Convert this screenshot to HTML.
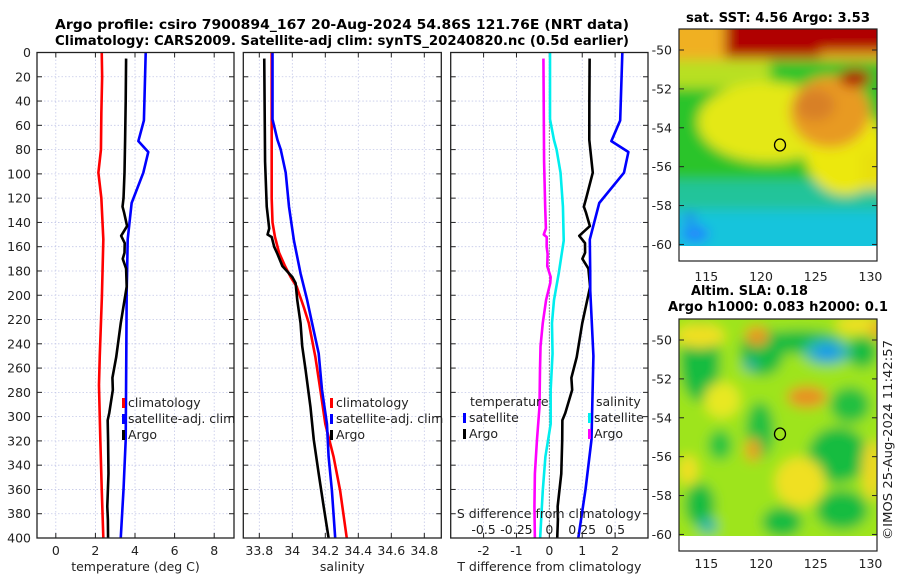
<!DOCTYPE html>
<html>
<head>
<meta charset="utf-8">
<style>
html,body{margin:0;padding:0;background:#fff;}
svg{display:block;font-family:"DejaVu Sans","Liberation Sans",sans-serif;}
</style>
</head>
<body>
<svg id="chart" width="900" height="580" viewBox="0 0 900 580" xmlns="http://www.w3.org/2000/svg">
  <defs>
    <filter id="blur4" x="-20%" y="-20%" width="140%" height="140%"><feGaussianBlur stdDeviation="6"/></filter>
    <clipPath id="clipTop"><rect x="679" y="29" width="198" height="217"/></clipPath>
    <clipPath id="clipBot"><rect x="679" y="319" width="198" height="217"/></clipPath>
  </defs>
  <rect x="0" y="0" width="900" height="580" fill="#fff"/>
  <text x="55" y="29" font-size="13" font-weight="bold" textLength="574" lengthAdjust="spacingAndGlyphs">Argo profile: csiro 7900894_167 20-Aug-2024 54.86S 121.76E (NRT data)</text>
  <text x="55" y="45" font-size="13" font-weight="bold" textLength="574" lengthAdjust="spacingAndGlyphs">Climatology: CARS2009. Satellite-adj clim: synTS_20240820.nc (0.5d earlier)</text>

  <!-- top map: SST -->
  <text x="686" y="22" font-size="13" font-weight="bold" textLength="184" lengthAdjust="spacingAndGlyphs">sat. SST: 4.56 Argo: 3.53</text>
  <g clip-path="url(#clipTop)">
    <g filter="url(#blur4)">
      <rect x="660" y="10" width="240" height="260" fill="#2cc42c"/>
      <rect x="660" y="180" width="240" height="80" fill="#22c49a"/>
      <rect x="660" y="210" width="240" height="50" fill="#18c4dc"/>
      <ellipse cx="695" cy="234" rx="14" ry="8" fill="#2080ff"/>
      <ellipse cx="690" cy="218" rx="6" ry="5" fill="#2070f0"/>
      <rect x="660" y="50" width="110" height="38" fill="#b8e020"/>
      <ellipse cx="768" cy="122" rx="70" ry="40" fill="#e4e818"/>
      <ellipse cx="845" cy="150" rx="40" ry="45" fill="#ece810"/>
      <rect x="860" y="150" width="40" height="40" fill="#e8e010"/>
      <rect x="660" y="10" width="240" height="50" fill="#f0b020"/>
      <ellipse cx="830" cy="112" rx="40" ry="36" fill="#e89a20"/>
      <ellipse cx="815" cy="105" rx="20" ry="16" fill="#d88028"/>
      <rect x="725" y="10" width="95" height="48" fill="#b00000"/>
      <rect x="818" y="10" width="80" height="42" fill="#b00000"/>
      <ellipse cx="855" cy="78" rx="16" ry="9" fill="#b00000"/>
    </g>
  </g>
  <rect x="679" y="246" width="198" height="15" fill="#fff"/>
  <rect x="679" y="29" width="198" height="232" fill="none" stroke="#222" stroke-width="1.2"/>
  <ellipse cx="780" cy="145" rx="5.5" ry="6" fill="none" stroke="#000" stroke-width="1.3"/>

  <!-- bottom map: SLA -->
  <text x="691" y="295" font-size="13" font-weight="bold" textLength="117" lengthAdjust="spacingAndGlyphs">Altim. SLA: 0.18</text>
  <text x="668" y="311" font-size="13" font-weight="bold" textLength="220" lengthAdjust="spacingAndGlyphs">Argo h1000: 0.083 h2000: 0.1</text>
  <g clip-path="url(#clipBot)">
    <g filter="url(#blur4)">
      <rect x="660" y="300" width="240" height="260" fill="#9ee41c"/>
      <ellipse cx="700" cy="362" rx="20" ry="40" fill="#18bc40"/>
      <ellipse cx="762" cy="352" rx="22" ry="24" fill="#18bc40"/>
      <ellipse cx="800" cy="342" rx="42" ry="12" fill="#18bc40"/>
      <ellipse cx="760" cy="430" rx="14" ry="28" fill="#20c040"/>
      <ellipse cx="838" cy="455" rx="30" ry="28" fill="#18bc40"/>
      <ellipse cx="842" cy="510" rx="26" ry="20" fill="#18bc40"/>
      <ellipse cx="700" cy="505" rx="15" ry="22" fill="#18bc40"/>
      <ellipse cx="782" cy="522" rx="20" ry="15" fill="#18bc40"/>
      <ellipse cx="862" cy="352" rx="15" ry="16" fill="#18bc40"/>
      <ellipse cx="720" cy="445" rx="12" ry="15" fill="#28c440"/>
      <ellipse cx="850" cy="405" rx="20" ry="18" fill="#20c040"/>
      <ellipse cx="700" cy="336" rx="25" ry="12" fill="#f0e020"/>
      <ellipse cx="860" cy="325" rx="25" ry="9" fill="#f0e020"/>
      <ellipse cx="722" cy="400" rx="18" ry="18" fill="#e8e820"/>
      <ellipse cx="800" cy="482" rx="25" ry="25" fill="#f0e020"/>
      <ellipse cx="872" cy="470" rx="10" ry="30" fill="#f0d820"/>
      <ellipse cx="688" cy="470" rx="10" ry="15" fill="#f0e020"/>
      <ellipse cx="757" cy="336" rx="12" ry="10" fill="#e89820"/>
      <ellipse cx="807" cy="397" rx="20" ry="11" fill="#e89020"/>
      <ellipse cx="753" cy="450" rx="8" ry="12" fill="#e8a020"/>
      <ellipse cx="878" cy="330" rx="8" ry="10" fill="#e8b020"/>
      <ellipse cx="827" cy="352" rx="24" ry="13" fill="#30b8b0"/>
      <ellipse cx="827" cy="352" rx="13" ry="7" fill="#1898f0"/>
      <ellipse cx="750" cy="365" rx="8" ry="6" fill="#30b0a0"/>
      <ellipse cx="708" cy="526" rx="10" ry="8" fill="#30b8a8"/>
    </g>
  </g>
  <rect x="679" y="536" width="198" height="15" fill="#fff"/>
  <rect x="679" y="319" width="198" height="232" fill="none" stroke="#222" stroke-width="1.2"/>
  <ellipse cx="780" cy="434" rx="5.5" ry="6" fill="#9ee41c" stroke="#000" stroke-width="1.3"/>
  <text transform="translate(892,540) rotate(-90)" font-size="12.5" fill="#222" textLength="200" lengthAdjust="spacingAndGlyphs">©IMOS 25-Aug-2024 11:42:57</text>
</svg>
<script>
// ---------- data ----------
const depthTicks = [0,20,40,60,80,100,120,140,160,180,200,220,240,260,280,300,320,340,360,380,400];
const tempTicks = [0,2,4,6,8];
const salTicks = [33.8,34,34.2,34.4,34.6,34.8];
const salTickLabels = ['33.8','34','34.2','34.4','34.6','34.8'];
const tDiffTicks = [-2,-1,0,1,2];
const sDiffTicks = [-0.5,-0.25,0,0.25,0.5];
const sDiffTickLabels = ['-0.5','-0.25','0','0.25','0.5'];

const tempClimDepth = [0,20,50,80,99,120,154,200,250,274,320,360,400];
const tempClimVal   = [2.32,2.34,2.3,2.28,2.15,2.3,2.4,2.33,2.22,2.18,2.25,2.32,2.4];
const tempSatDepth  = [0,56,73,82,99,124,154,182,196,250,319,360,400];
const tempSatVal    = [4.54,4.45,4.17,4.67,4.42,3.83,3.63,3.6,3.58,3.56,3.53,3.42,3.28];
const tempArgoDepth = [5,40,72,99,120,127,132,143,151,157,165,170,178,193,223,251,268,278,297,303,319,347,374,385,400];
const tempArgoVal   = [3.55,3.53,3.5,3.47,3.42,3.37,3.45,3.6,3.3,3.48,3.47,3.38,3.55,3.58,3.28,3.05,2.86,2.88,2.7,2.62,2.64,2.66,2.6,2.63,2.64];

const salClimDepth = [0,50,100,120,140,152,165,176,185,193,210,223,251,278,306,333,361,400];
const salClimVal   = [33.875,33.875,33.875,33.875,33.88,33.895,33.92,33.956,33.99,34.027,34.07,34.10,34.14,34.17,34.20,34.25,34.29,34.33];
const salSatDepth  = [0,55,72,80,99,127,155,182,204,223,248,278,306,333,361,400];
const salSatVal    = [33.88,33.88,33.91,33.93,33.96,33.98,34.01,34.05,34.09,34.12,34.16,34.18,34.21,34.22,34.24,34.26];
const salArgoDepth = [5,90,127,145,150,152,160,166,176,185,190,204,223,242,261,292,319,347,374,400];
const salArgoVal   = [33.83,33.835,33.845,33.86,33.85,33.875,33.89,33.91,33.94,34.0,34.02,34.03,34.05,34.06,34.08,34.11,34.13,34.16,34.19,34.22];

const mapLatTicks = [-50,-52,-54,-56,-58,-60];
const mapLonTicks = [115,120,125,130];

// ---------- helpers ----------
const NS = 'http://www.w3.org/2000/svg';
const svg = document.getElementById('chart');
function mk(tag, attrs, parent){
  const e = document.createElementNS(NS, tag);
  for (const k in attrs) e.setAttribute(k, attrs[k]);
  (parent || svg).appendChild(e);
  return e;
}
function interp(ds, vs, d){
  if (d <= ds[0]) return vs[0];
  for (let i=1;i<ds.length;i++){ if (d <= ds[i]){ const t=(d-ds[i-1])/(ds[i]-ds[i-1]); return vs[i-1]+t*(vs[i]-vs[i-1]); } }
  return vs[vs.length-1];
}
const Y0 = 52.5, Y1 = 538;
function yScale(d){ return Y0 + d*(Y1-Y0)/400; }
function makeX(x0,x1,min,max){ return v => x0 + (v-min)*(x1-x0)/(max-min); }

const P1 = {x0:37, x1:234, min:-0.95, max:9.0};
const P2 = {x0:243.3, x1:441.3, min:33.703, max:34.903};
const P3 = {x0:450.7, x1:648, min:-3.0, max:3.0};
const x1s = makeX(P1.x0,P1.x1,P1.min,P1.max);
const x2s = makeX(P2.x0,P2.x1,P2.min,P2.max);
const x3s = makeX(P3.x0,P3.x1,P3.min,P3.max);
const x3sS = v => x3s(v*4);

function drawPanel(P, xs, ticks, name){
  const g = mk('g', {});
  
  
  ticks.forEach(t => {
    const x = xs(t);
    const gl = mk('line', {x1:x, x2:x, y1:Y0, y2:Y1, stroke:'#c4c8e8', 'stroke-width':0.8, 'stroke-dasharray':'1.5,2'}, g);
    
    
  });
  depthTicks.forEach(d => {
    const y = yScale(d);
    const gl = mk('line', {x1:P.x0, x2:P.x1, y1:y, y2:y, stroke:'#c4c8e8', 'stroke-width':0.8, 'stroke-dasharray':'1.5,2'}, g);
    
    
    const tl = mk('line', {x1:P.x0, x2:P.x0+5, y1:y, y2:y, stroke:'#222', 'stroke-width':1}, g);
    
    
    const tr = mk('line', {x1:P.x1-5, x2:P.x1, y1:y, y2:y, stroke:'#222', 'stroke-width':1}, g);
    
    
  });
  ticks.forEach(t => {
    const x = xs(t);
    const tb = mk('line', {x1:x, x2:x, y1:Y1-5, y2:Y1, stroke:'#222', 'stroke-width':1}, g);
    
    
    const tt = mk('line', {x1:x, x2:x, y1:Y0, y2:Y0+5, stroke:'#222', 'stroke-width':1}, g);
    
    
  });
  return g;
}
function drawFrame(P, name){
  const r = mk('rect', {x:P.x0, y:Y0, width:P.x1-P.x0, height:Y1-Y0, fill:'none', stroke:'#222', 'stroke-width':1.3});
  
  
}
function label(x, y, txt, anchor, size, name){
  const t = mk('text', {x:x, y:y, 'text-anchor':anchor, 'font-size':size, fill:'#222'});
  t.textContent = txt;
  
  
  return t;
}
function line(xsArr, ysArr, color, name, w){
  const pts = xsArr.map((x,i) => x.toFixed(2)+','+ysArr[i].toFixed(2)).join(' ');
  const p = mk('polyline', {points:pts, fill:'none', stroke:color, 'stroke-width':w||2.6, 'stroke-linejoin':'round', 'stroke-linecap':'butt'});
  
  
  return p;
}
function legendEntry(x, y, color, txt, name){
  const m = mk('rect', {x:x, y:y-9, width:3, height:10, fill:color});
  
  
  label(x+6, y, txt, 'start', 12.5, name);
}

// ---------- panel 1: temperature ----------
drawPanel(P1, x1s, tempTicks, 'temperature-panel');
depthTicks.forEach(d => { label(31, yScale(d)+4.5, String(d), 'end', 12.5, 'depth-tick-label'); });
tempTicks.forEach(t => { label(x1s(t), 555, String(t), 'middle', 12.5, 'temperature-tick-label'); });
label((P1.x0+P1.x1)/2, 571, 'temperature (deg C)', 'middle', 12.5, 'temperature-axis-title');
line(tempClimVal.map(x1s), tempClimDepth.map(yScale), '#ff0000', 'temperature-climatology-line');
line(tempSatVal.map(x1s), tempSatDepth.map(yScale), '#0000ff', 'temperature-satellite-line');
line(tempArgoVal.map(x1s), tempArgoDepth.map(yScale), '#000000', 'temperature-argo-line');
drawFrame(P1, 'temperature-panel');
legendEntry(122, 407, '#ff0000', 'climatology', 'temperature-legend-climatology');
legendEntry(122, 423, '#0000ff', 'satellite-adj. clim', 'temperature-legend-satellite');
legendEntry(122, 439, '#000000', 'Argo', 'temperature-legend-argo');

// ---------- panel 2: salinity ----------
drawPanel(P2, x2s, salTicks, 'salinity-panel');
salTicks.forEach((t,i) => { label(x2s(t), 555, salTickLabels[i], 'middle', 12.5, 'salinity-tick-label'); });
label((P2.x0+P2.x1)/2, 571, 'salinity', 'middle', 12.5, 'salinity-axis-title');
line(salClimVal.map(x2s), salClimDepth.map(yScale), '#ff0000', 'salinity-climatology-line');
line(salSatVal.map(x2s), salSatDepth.map(yScale), '#0000ff', 'salinity-satellite-line');
line(salArgoVal.map(x2s), salArgoDepth.map(yScale), '#000000', 'salinity-argo-line');
drawFrame(P2, 'salinity-panel');
legendEntry(330, 407, '#ff0000', 'climatology', 'salinity-legend-climatology');
legendEntry(330, 423, '#0000ff', 'satellite-adj. clim', 'salinity-legend-satellite');
legendEntry(330, 439, '#000000', 'Argo', 'salinity-legend-argo');

// ---------- panel 3: differences ----------
drawPanel(P3, x3s, tDiffTicks, 'difference-panel');
const zl = mk('line', {x1:x3s(0), x2:x3s(0), y1:Y0, y2:Y1, stroke:'#333', 'stroke-width':1, 'stroke-dasharray':'1,2'});


tDiffTicks.forEach(t => { label(x3s(t), 555, String(t), 'middle', 12.5, 't-difference-tick-label'); });
label((P3.x0+P3.x1)/2, 571, 'T difference from climatology', 'middle', 12.5, 't-difference-axis-title');
const tSatDiff = tempSatDepth.map((d,i) => tempSatVal[i] - interp(tempClimDepth, tempClimVal, d));
const tArgoDiff = tempArgoDepth.map((d,i) => tempArgoVal[i] - interp(tempClimDepth, tempClimVal, d));
const sSatDiff = salSatDepth.map((d,i) => salSatVal[i] - interp(salClimDepth, salClimVal, d));
const sArgoDiff = salArgoDepth.map((d,i) => salArgoVal[i] - interp(salClimDepth, salClimVal, d));
line(sArgoDiff.map(x3sS), salArgoDepth.map(yScale), '#ff00ff', 'salinity-argo-difference-line');
line(sSatDiff.map(x3sS), salSatDepth.map(yScale), '#00eeee', 'salinity-satellite-difference-line');
line(tArgoDiff.map(x3s), tempArgoDepth.map(yScale), '#000000', 'temperature-argo-difference-line');
line(tSatDiff.map(x3s), tempSatDepth.map(yScale), '#0000ff', 'temperature-satellite-difference-line');
drawFrame(P3, 'difference-panel');
label(549, 518, 'S difference from climatology', 'middle', 12.5, 's-difference-axis-title');
sDiffTicks.forEach((t,i) => { label(x3sS(t), 534, sDiffTickLabels[i], 'middle', 12.5, 's-difference-tick-label'); });
label(470, 406, 'temperature', 'start', 12.5, 'difference-legend-temperature-header');
legendEntry(463, 422, '#0000ff', 'satellite', 'difference-legend-temperature-satellite');
legendEntry(463, 438, '#000000', 'Argo', 'difference-legend-temperature-argo');
label(596, 406, 'salinity', 'start', 12.5, 'difference-legend-salinity-header');
legendEntry(588, 422, '#00eeee', 'satellite', 'difference-legend-salinity-satellite');
legendEntry(588, 438, '#ff00ff', 'Argo', 'difference-legend-salinity-argo');

// ---------- map axes ----------
function mapAxes(top, latTop, latBot, dataBot, name, xlabY){
  const lonX = v => 679 + (v-112.5)*(877-679)/(130.6-112.5);
  const latY = v => top + (latTop - v)*(dataBot-top)/(latTop-latBot);
  mapLatTicks.forEach(l => {
    const y = latY(l);
    label(672, y+4.5, String(l), 'end', 12.5, name + '-lat-tick-label');
    const a = mk('line', {x1:679, x2:684, y1:y, y2:y, stroke:'#222', 'stroke-width':1});
    
    
    const b = mk('line', {x1:872, x2:877, y1:y, y2:y, stroke:'#222', 'stroke-width':1});
    
    
  });
  mapLonTicks.forEach(l => {
    const x = lonX(l);
    label(x, xlabY, String(l), 'middle', 12.5, name + '-lon-tick-label');
  });
}
mapAxes(29, -48.92, -60.08, 246, 'sst-map', 281);
mapAxes(319, -48.92, -60.08, 536, 'sla-map', 568);
</script>
</body>
</html>
